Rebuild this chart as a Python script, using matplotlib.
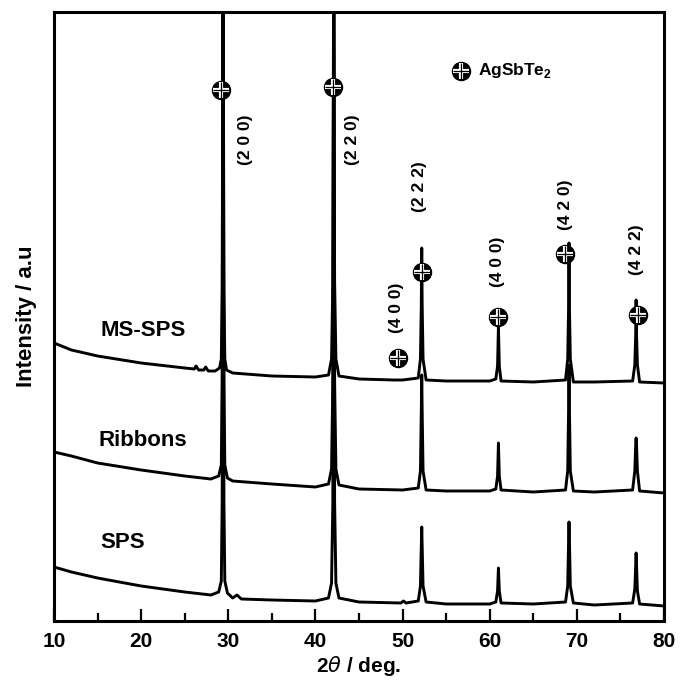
import matplotlib
matplotlib.use("Agg")
import matplotlib.pyplot as plt

plt.rcParams['font.family'] = ['Liberation Sans', 'DejaVu Sans']
plt.rcParams['mathtext.fontset'] = 'custom'
plt.rcParams['mathtext.rm'] = 'Liberation Sans'
plt.rcParams['mathtext.bf'] = 'Liberation Sans:bold'

# ----------- DATA (intensity in a.u.) -----------
sps_x = [10, 12, 15, 20, 25, 28, 28.9, 29.2, 29.3, 29.4, 29.5, 29.6, 29.9, 30.5, 31.0, 31.5, 35, 40,
         41.5, 41.85, 42.0, 42.1, 42.2, 42.35, 42.7, 45, 49.8, 50.1, 50.4, 51.8, 52.05, 52.15, 52.2, 52.25, 52.35, 52.7,
         55, 60, 60.7, 60.9, 61.0, 61.1, 61.3, 65, 68.7, 68.95, 69.05, 69.1, 69.15, 69.25, 69.6,
         72, 76.4, 76.65, 76.75, 76.8, 76.85, 76.95, 77.2, 80]
sps_y = [54, 49, 43, 35, 29, 26, 29, 40, 120, 700, 120, 40, 28, 23, 26, 22, 21, 20,
         23, 38, 120, 700, 120, 38, 23, 19, 18, 20, 18, 20, 35, 75, 94, 75, 35, 19,
         17, 17, 19, 30, 53, 30, 18, 17, 19, 35, 80, 99, 80, 35, 18,
         16, 18, 32, 55, 68, 55, 30, 17, 15]

rib_x = [10, 12, 15, 20, 25, 28, 28.9, 29.2, 29.3, 29.4, 29.5, 29.6, 29.9, 30.5, 35, 40,
         41.5, 41.85, 42.0, 42.1, 42.2, 42.35, 42.7, 45, 50, 51.8, 52.05, 52.15, 52.2, 52.25, 52.35, 52.7,
         55, 60, 60.7, 60.9, 61.0, 61.1, 61.3, 65, 68.7, 68.95, 69.05, 69.1, 69.15, 69.25, 69.6,
         72, 76.4, 76.65, 76.75, 76.8, 76.85, 76.95, 77.2, 80]
rib_y = [169, 165, 158, 151, 145, 142, 145, 156, 240, 700, 240, 156, 143, 140, 137, 134,
         137, 152, 240, 700, 240, 152, 136, 132, 131, 133, 150, 210, 246, 210, 150, 131,
         130, 130, 132, 145, 178, 145, 131, 129, 131, 150, 210, 256, 210, 150, 130,
         129, 131, 150, 175, 183, 175, 150, 130, 128]

ms_x = [10, 12, 15, 20, 25, 26.1, 26.3, 26.6, 27.2, 27.4, 27.7, 28.5, 29.0, 29.2, 29.3, 29.4, 29.5, 29.6, 29.8, 30.5, 35, 40,
        41.5, 41.85, 42.0, 42.1, 42.2, 42.35, 42.7, 45, 49, 50, 51.8, 52.05, 52.15, 52.2, 52.25, 52.35, 52.7,
        55, 60, 60.7, 60.9, 61.0, 61.1, 61.3, 65, 68.7, 68.95, 69.05, 69.1, 69.15, 69.25, 69.6,
        72, 76.4, 76.65, 76.75, 76.8, 76.85, 76.95, 77.2, 80]
ms_y = [278, 271, 265, 258, 253, 252, 255, 251, 251, 254, 250, 250, 253, 262, 330, 700, 330, 262, 251, 248, 245, 244,
        246, 262, 340, 700, 340, 262, 245, 242, 241, 241, 243, 262, 316, 373, 316, 262, 241,
        240, 240, 242, 255, 294, 255, 240, 239, 241, 262, 313, 378, 313, 262, 239,
        239, 240, 256, 286, 321, 286, 256, 239, 238]

trace_labels = ["SPS", "Ribbons", "MS-SPS"]
label_pos = [(17.9, 78), (20.2, 180), (20.2, 291)]

marker_x = [29.17, 42.02, 49.48, 52.23, 60.95, 68.64, 77.02]
marker_y = [531, 534, 263, 349, 304, 367, 306]

hkl_text = ["(2 0 0)", "(2 2 0)", "(2 2 2)", "(4 0 0)", "(4 0 0)", "(4 2 0)", "(4 2 2)"]
hkl_x = [32.0, 44.3, 51.9, 49.36, 60.84, 68.64, 76.9]
hkl_y = [481, 481, 434, 313, 359, 416, 371]

legend_xy = (56.7, 550)
legend_text = r"AgSbTe$_\mathbf{2}$"


def phase_marker(ax, xs, ys):
    ax.plot(xs, ys, 'o', ms=13, color='black', zorder=5)
    ax.plot(xs, ys, '+', ms=11, mew=3.0, color='white', zorder=6)
    ax.plot(xs, ys, '+', ms=11, mew=0.9, color='black', zorder=7)


# ----------- PLOT -----------
fig = plt.figure(figsize=(6.84, 6.80), dpi=100)
ax = fig.add_axes([54 / 684, 1 - 621 / 680, 610 / 684, 609 / 680])

for xs, ys in [(sps_x, sps_y), (rib_x, rib_y), (ms_x, ms_y)]:
    ax.plot(xs, ys, color='black', lw=2.1, solid_joinstyle='round')

for txt, (lx, ly) in zip(trace_labels, label_pos):
    ax.text(lx, ly, txt, fontsize=16, fontweight='bold', ha='center', va='center')

phase_marker(ax, marker_x, marker_y)
for txt, hx, hy in zip(hkl_text, hkl_x, hkl_y):
    ax.text(hx, hy, txt, fontsize=12.5, fontweight='bold', rotation=90, ha='center', va='center')

phase_marker(ax, [legend_xy[0]], [legend_xy[1]])
ax.text(legend_xy[0] + 1.9, legend_xy[1], legend_text, fontsize=12.5, fontweight='bold', ha='left', va='center')

ax.set_xlim(10, 80)
ax.set_ylim(0, 609)
ax.set_xticks(range(10, 81, 10))
ax.set_xticks(range(15, 80, 10), minor=True)
ax.set_yticks([])
ax.tick_params(axis='x', which='major', direction='in', length=9, width=1.6, labelsize=15, pad=8)
ax.tick_params(axis='x', which='minor', direction='in', length=5.5, width=1.6)
for lab in ax.get_xticklabels():
    lab.set_fontweight('bold')
for sp in ax.spines.values():
    sp.set_linewidth(2.2)

ax.set_xlabel(r"2$\theta$ / deg.", fontsize=15, fontweight='bold', labelpad=2)
ax.set_ylabel("Intensity / a.u", fontsize=16, fontweight='bold', labelpad=12)

fig.savefig("out.png", dpi=100)
